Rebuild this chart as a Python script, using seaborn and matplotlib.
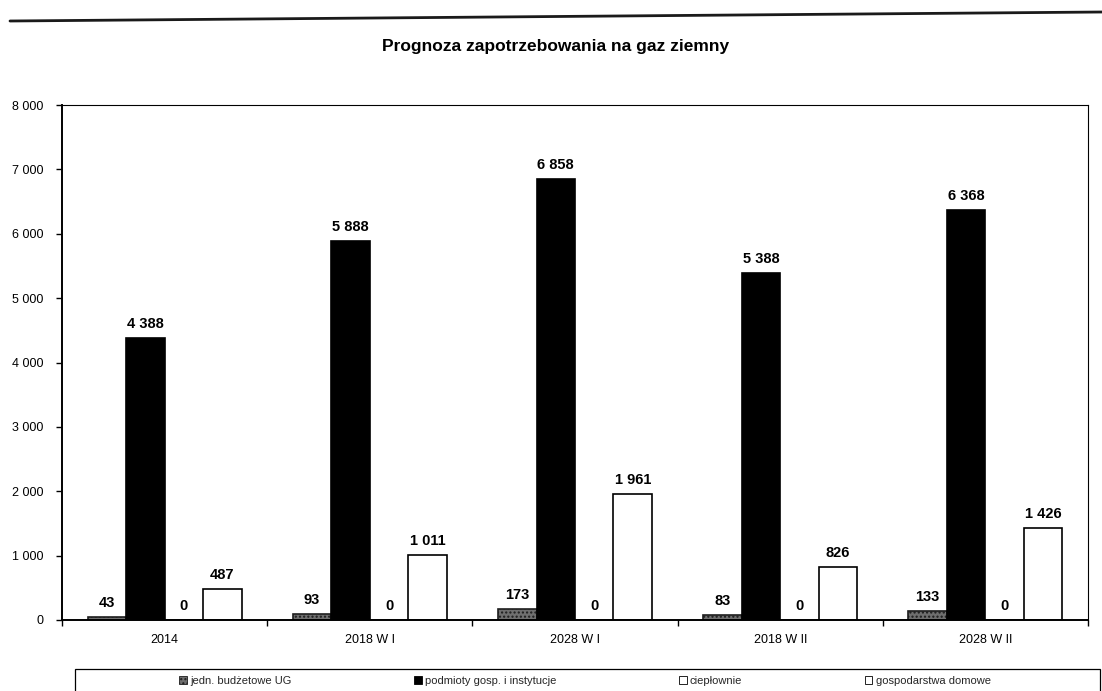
import matplotlib
matplotlib.use("Agg")
import matplotlib.pyplot as plt
from matplotlib.lines import Line2D
from matplotlib.patches import Patch, Rectangle
from matplotlib.ticker import FixedLocator, FuncFormatter
import pandas as pd
import seaborn as sns

# Gas demand forecast by consumer group
categories = ["2014", "2018 W I", "2028 W I", "2018 W II", "2028 W II"]
series = ["jedn. budżetowe UG", "podmioty gosp. i instytucje", "ciepłownie", "gospodarstwa domowe"]
jedn_budzetowe = [43, 93, 173, 83, 133]
podmioty_gosp = [4388, 5888, 6858, 5388, 6368]
cieplownie = [0, 0, 0, 0, 0]
gospodarstwa = [487, 1011, 1961, 826, 1426]
y_ticks = [0, 1000, 2000, 3000, 4000, 5000, 6000, 7000, 8000]
title = "Prognoza zapotrzebowania na gaz ziemny"

values = [jedn_budzetowe, podmioty_gosp, cieplownie, gospodarstwa]
df = pd.DataFrame(
    [(c, s, v) for s, vals in zip(series, values) for c, v in zip(categories, vals)],
    columns=["kategoria", "grupa", "wartosc"],
)

sns.set_theme(style="white")
plt.rcParams["font.family"] = ["Liberation Sans", "DejaVu Sans"]

face = {series[0]: "#6f6f6f", series[1]: "#000000", series[2]: "#ffffff", series[3]: "#ffffff"}

fig = plt.figure(figsize=(11.02, 6.91), dpi=100)
ax = fig.add_axes([62 / 1102, 1 - 620 / 691, (1088 - 62) / 1102, (620 - 105) / 691])

sns.barplot(
    data=df, x="kategoria", y="wartosc", hue="grupa",
    order=categories, hue_order=series, palette=face,
    width=0.75, saturation=1, edgecolor="black", linewidth=1.2,
    errorbar=None, legend=False, ax=ax,
)

# dotted fill for the budget-unit bars
for bar in ax.containers[0]:
    bar.set_hatch("....")
    bar.set_edgecolor("#1e1e1e")

def spaced(v):
    return f"{int(v):,}".replace(",", " ")

for cont, vals in zip(ax.containers, values):
    ax.bar_label(cont, labels=[spaced(v) for v in vals], padding=5,
                 fontsize=10.5, fontweight="bold", color="black")

ax.set_ylim(0, 8000)
ax.set_xlim(-0.5, len(categories) - 0.5)
ax.yaxis.set_major_locator(FixedLocator(y_ticks))
ax.yaxis.set_major_formatter(FuncFormatter(lambda v, p: spaced(v)))
ax.set_xlabel("")
ax.set_ylabel("")
ax.tick_params(axis="y", which="major", direction="out", length=4, width=1,
               color="black", pad=9.5, labelsize=9, labelcolor="black", left=True)
ax.tick_params(axis="x", which="major", length=0, pad=10, labelsize=9, labelcolor="black")
ax.xaxis.set_minor_locator(FixedLocator([i + 0.5 for i in range(-1, len(categories))]))
ax.tick_params(axis="x", which="minor", direction="out", length=4, width=1,
               color="black", bottom=True)

for side, sp in ax.spines.items():
    sp.set_visible(True)
    sp.set_color("black")
    sp.set_linewidth(1.4 if side in ("left", "bottom") else 0.8)

fig.text(556 / 1102, 1 - 46 / 691, title, ha="center", va="center",
         fontsize=12.5, fontweight="bold", color="black")

# rule line across the top of the page
fig.add_artist(Line2D([10 / 1102, 1.0], [1 - 21 / 691, 1 - 12 / 691],
                      transform=fig.transFigure, color="#1a1a1a", lw=2.0))

# legend box running off the bottom edge
fig.add_artist(Rectangle((75 / 1102, -0.05), (1100 - 75) / 1102, 0.05 + (1 - 669 / 691),
                         transform=fig.transFigure, fill=False, edgecolor="black", lw=0.9))

handles = [
    Patch(facecolor=face[series[0]], edgecolor="#1e1e1e", hatch="....", lw=0.6),
    Patch(facecolor=face[series[1]], edgecolor="black", lw=0.6),
    Patch(facecolor=face[series[2]], edgecolor="black", lw=0.6),
    Patch(facecolor=face[series[3]], edgecolor="black", lw=0.6),
]
fig.legend(handles, series, ncol=4, loc="center",
           bbox_to_anchor=(585 / 1102, 1 - 681 / 691), frameon=False,
           fontsize=8, handlelength=0.7, handleheight=0.7, handletextpad=0.3,
           columnspacing=11.0, borderpad=0)

fig.savefig("out.png", dpi=100)
